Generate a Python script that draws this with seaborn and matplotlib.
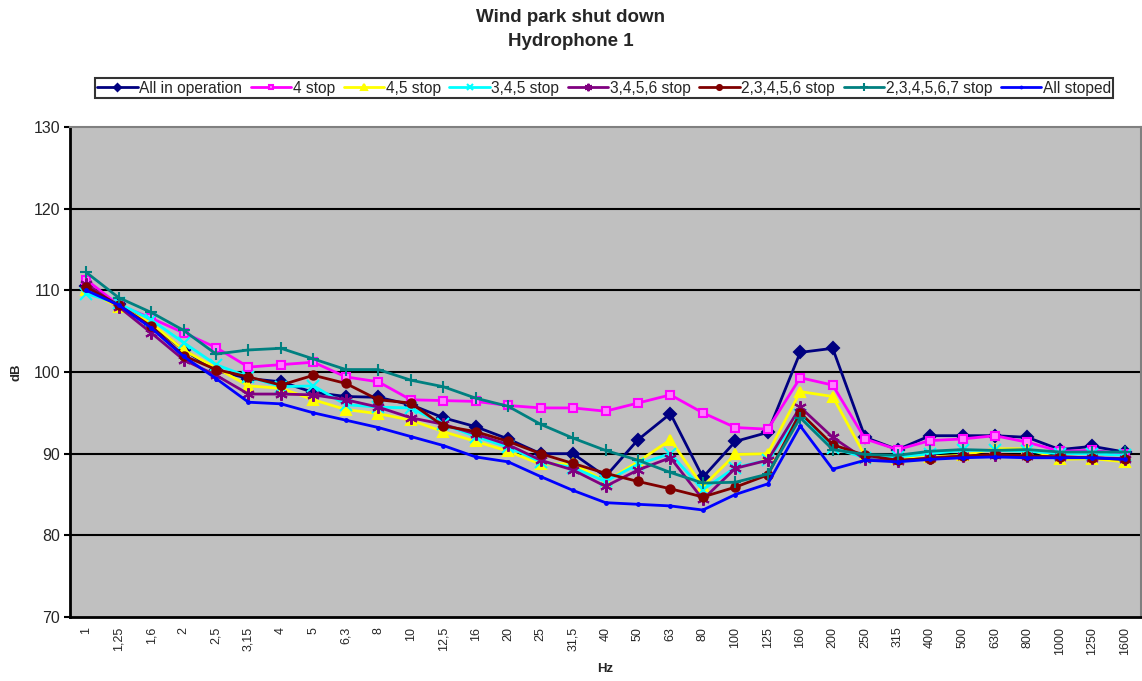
import matplotlib
matplotlib.use("Agg")
import matplotlib.pyplot as plt
import seaborn as sns
import pandas as pd
import numpy as np

freqs = ["1", "1,25", "1,6", "2", "2,5", "3,15", "4", "5", "6,3", "8", "10", "12,5", "16",
         "20", "25", "31,5", "40", "50", "63", "80", "100", "125", "160", "200", "250",
         "315", "400", "500", "630", "800", "1000", "1250", "1600"]

all_in_operation = [110.5, 108.3, 105.8, 102.7, 100.2, 99.2, 98.8, 97.5, 97.0, 96.9, 96.0, 94.4, 93.3,
                    91.8, 90.0, 90.0, 87.2, 91.7, 94.9, 87.1, 91.5, 92.6, 102.4, 102.9, 92.0,
                    90.5, 92.2, 92.2, 92.2, 92.0, 90.5, 90.9, 90.2]
stop_4 = [111.3, 108.2, 106.6, 104.8, 103.0, 100.6, 100.9, 101.2, 99.4, 98.8, 96.6, 96.5, 96.4,
          95.9, 95.6, 95.6, 95.2, 96.2, 97.2, 95.0, 93.2, 93.0, 99.3, 98.4, 91.8,
          90.5, 91.6, 91.8, 92.2, 91.4, 90.3, 90.4, 90.0]
stop_45 = [110.0, 108.0, 106.0, 102.7, 100.5, 98.3, 98.0, 96.6, 95.4, 94.9, 94.1, 92.7, 91.5,
           90.3, 88.7, 88.8, 86.6, 89.0, 91.7, 86.0, 89.9, 90.0, 97.6, 97.0, 89.7,
           89.3, 89.6, 89.8, 90.6, 90.6, 89.3, 89.4, 89.0]
stop_345 = [109.6, 108.4, 106.4, 103.6, 100.9, 99.4, 98.2, 98.3, 96.0, 95.7, 95.6, 93.6, 92.1,
            90.8, 89.0, 88.3, 86.6, 88.7, 90.0, 85.6, 88.3, 89.2, 94.7, 90.7, 89.5,
            89.6, 90.0, 90.4, 90.4, 90.3, 90.0, 90.0, 89.8]
stop_3456 = [110.8, 108.0, 104.8, 101.5, 99.6, 97.3, 97.3, 97.2, 96.6, 95.7, 94.4, 93.6, 92.4,
             91.1, 89.2, 88.0, 86.0, 88.0, 89.5, 84.4, 88.2, 89.2, 95.7, 92.0, 89.3,
             89.1, 89.5, 89.7, 89.8, 89.7, 89.6, 89.5, 89.4]
stop_23456 = [110.4, 108.2, 105.6, 102.0, 100.3, 99.4, 98.4, 99.6, 98.6, 96.6, 96.2, 93.4, 92.7,
              91.5, 90.0, 88.8, 87.6, 86.6, 85.7, 84.7, 85.9, 87.4, 95.0, 91.1, 89.8,
              89.2, 89.4, 89.7, 89.9, 89.7, 89.6, 89.5, 89.3]
stop_234567 = [112.2, 109.1, 107.3, 105.1, 102.2, 102.7, 102.9, 101.6, 100.3, 100.3, 99.0, 98.2, 96.8,
               95.8, 93.6, 91.9, 90.4, 89.2, 87.7, 86.4, 86.5, 87.5, 94.4, 90.5, 89.9,
               89.8, 90.3, 90.5, 90.4, 90.5, 90.2, 90.2, 90.2]
all_stoped = [110.0, 108.2, 105.4, 101.9, 99.2, 96.3, 96.1, 95.0, 94.1, 93.2, 92.1, 91.0, 89.6,
              89.0, 87.2, 85.5, 84.0, 83.8, 83.6, 83.1, 85.0, 86.3, 93.4, 88.1, 89.2,
              89.0, 89.3, 89.5, 89.6, 89.5, 89.5, 89.5, 89.3]

series_names = ["All in operation", "4 stop", "4,5 stop", "3,4,5 stop", "3,4,5,6 stop",
                "2,3,4,5,6 stop", "2,3,4,5,6,7 stop", "All stoped"]
series_values = [all_in_operation, stop_4, stop_45, stop_345, stop_3456, stop_23456,
                 stop_234567, all_stoped]
colors = ["#000080", "#FF00FF", "#FFFF00", "#00FFFF", "#800080", "#800000", "#008080", "#0000FF"]
markers = ["D", "s", "^", "x", (6, 2, 0), "o", "+", "."]
msizes = [6, 6, 7, 8, 9, 6, 9, 4]
face_colors = ["#000080", "#FF80FF", "#FFFF00", "#00FFFF", "#800080", "#800000", "#008080", "#0000FF"]

sns.set_theme(style="white")
plt.rcParams["font.family"] = ["Liberation Sans", "DejaVu Sans"]

fig = plt.figure(figsize=(11.42, 6.81), dpi=100)
ax = fig.add_axes([70 / 1142, 1 - 617 / 681, 1071 / 1142, 490 / 681])
ax.set_facecolor("#C0C0C0")

xpos = np.arange(len(freqs))
for name, vals, c, fc, m, ms in zip(series_names, series_values, colors, face_colors, markers, msizes):
    df = pd.DataFrame({"x": xpos, "y": vals})
    sns.lineplot(data=df, x="x", y="y", ax=ax, color=c, marker=m, markersize=ms,
                 markeredgecolor=c, markerfacecolor=fc, markeredgewidth=1.5,
                 linewidth=2, label=name, zorder=3)

ax.set_xlim(-0.5, len(freqs) - 0.5)
ax.set_ylim(70, 130)
ax.set_yticks(np.arange(70, 131, 10))
ax.set_yticklabels([str(v) for v in range(70, 131, 10)], fontsize=11.5)
for yv in range(80, 130, 10):
    ax.axhline(yv, color="black", linewidth=1.5, zorder=1)

ax.set_xticks(xpos)
ax.set_xticklabels(freqs, rotation=90, fontsize=9)
ax.set_xticks(np.arange(-0.5, len(freqs), 1), minor=True)
ax.tick_params(axis="x", which="major", length=0, pad=7)
ax.tick_params(axis="x", which="minor", length=4, width=1.5, color="black", direction="out")
ax.tick_params(axis="y", length=4, width=1.5, color="black", direction="out", left=True, pad=3)

for side in ["left", "bottom"]:
    ax.spines[side].set_color("black")
    ax.spines[side].set_linewidth(2)
for side in ["top", "right"]:
    ax.spines[side].set_color("#808080")
    ax.spines[side].set_linewidth(1.5)

ax.set_xlabel("Hz", fontsize=9.5, fontweight="bold", labelpad=6)
ax.set_ylabel("dB", fontsize=9.5, fontweight="bold", labelpad=8)

fig.text(0.5, 1 - 17 / 681, "Wind park shut down", ha="center", va="center",
         fontsize=13.5, fontweight="bold")
fig.text(0.5, 1 - 42 / 681, "Hydrophone 1", ha="center", va="center",
         fontsize=13.5, fontweight="bold")

leg = ax.legend(loc="center", bbox_to_anchor=(604 / 1142, 1 - 88 / 681),
                bbox_transform=fig.transFigure, ncol=8, fontsize=11.2, frameon=True,
                fancybox=False, edgecolor="black", handlelength=2.6, handletextpad=0.1,
                columnspacing=0.55, borderpad=0.15, borderaxespad=0, markerscale=0.6)
leg.get_frame().set_linewidth(1.5)

fig.savefig("out.png", dpi=100, facecolor="white")
